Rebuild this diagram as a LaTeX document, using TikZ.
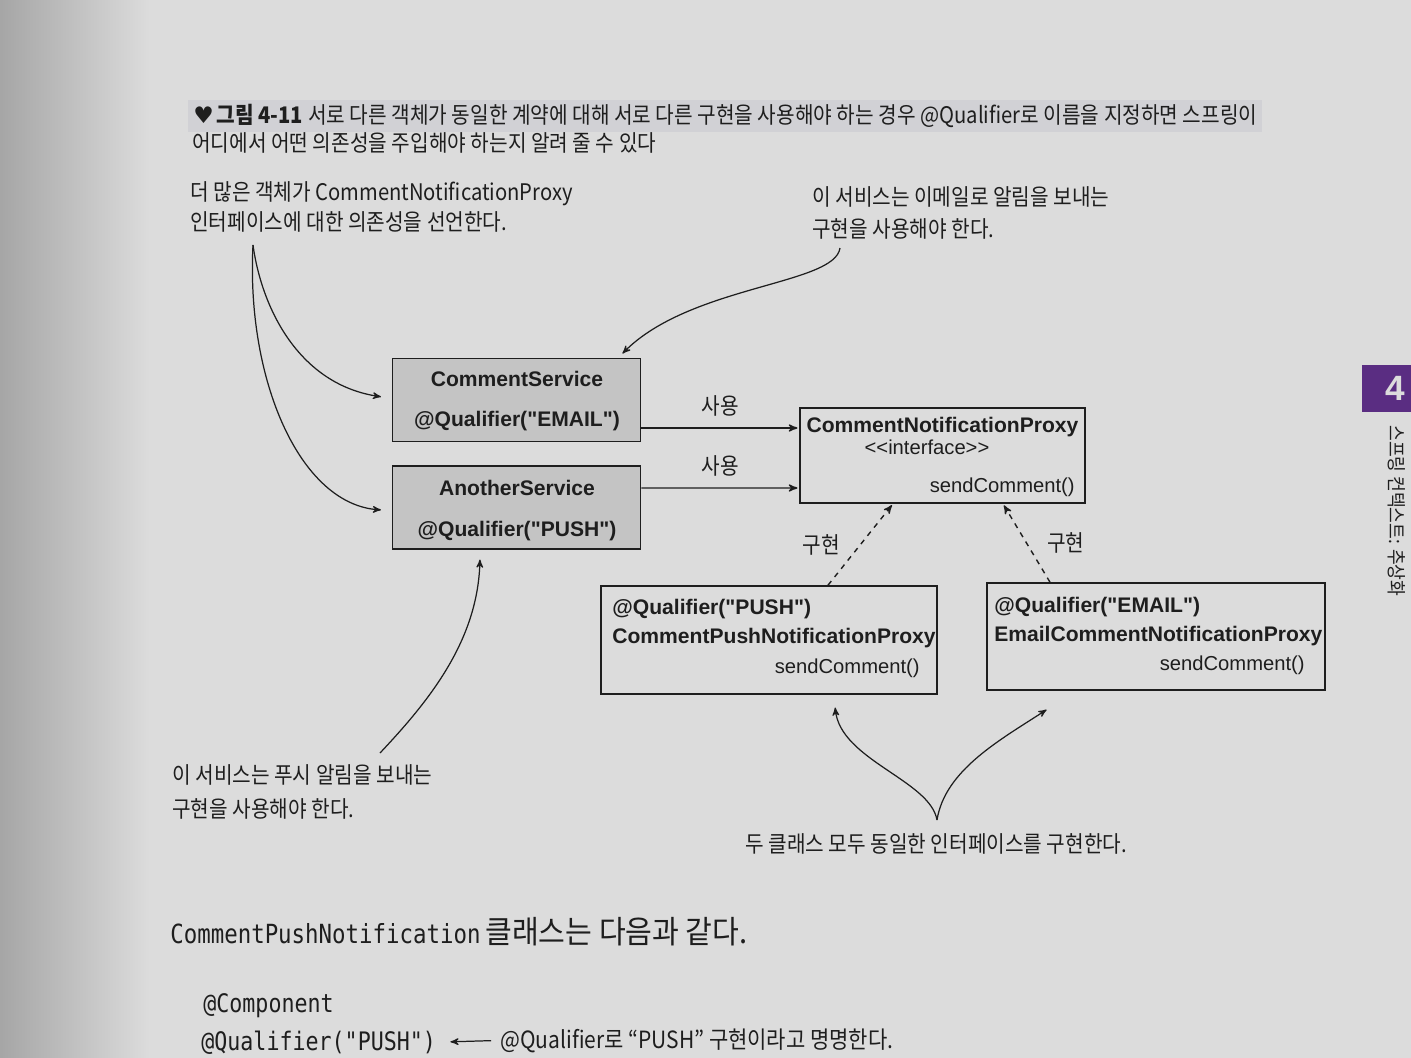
\documentclass[tikz,border=0pt]{standalone}
\usepackage{fontspec}
\usepackage{xcolor}
\usepackage{tikz}
\usetikzlibrary{positioning, arrows, calc}

\setmainfont[Ligatures=TeXOff]{Liberation Sans}
\newfontfamily\krcond[FakeStretch=0.885]{Noto Sans CJK KR}
\newfontfamily\krbig[FakeStretch=0.92]{Noto Sans CJK KR}
\newfontfamily\codefont[FakeStretch=0.85]{DejaVu Sans Mono}
\newfontfamily\symfont{DejaVu Sans}

\definecolor{page}{HTML}{DCDCDC}
\definecolor{band}{HTML}{D1D1D5}
\definecolor{boxgray}{HTML}{C4C4C4}
\definecolor{ink}{HTML}{1E1E1E}
\definecolor{tabpurple}{HTML}{5A2D82}

\newcommand\figcap{\krcond\fontsize{13}{15}\selectfont}
\newcommand\notetxt{\krcond\fontsize{13}{15}\selectfont}

\tikzset{
  svc/.style={draw=ink, line width=0.9pt, fill=boxgray, minimum width=4.96cm, minimum height=1.66cm, inner sep=0pt},
  cls/.style={draw=ink, line width=0.9pt, fill=page, inner sep=0pt},
  bold/.style={inner sep=0pt, text=ink, font=\fontsize{12}{14}\selectfont\bfseries},
  meth/.style={inner sep=0pt, text=ink, font=\fontsize{11.5}{14}\selectfont},
  note/.style={inner sep=0pt, anchor=base west, text=ink, font=\notetxt},
  uses/.style={->, draw=ink, line width=0.8pt},
  impl/.style={->, draw=ink, dashed, line width=0.8pt},
  callout/.style={->, draw=ink, line width=0.7pt},
}

\begin{document}
\begin{tikzpicture}[x=0.02cm, y=-0.02cm, >=stealth', shorten >=1pt]
    \useasboundingbox (0,0) rectangle (1411,1058);
    % page
    \fill[page] (0,0) rectangle (1411,1058);
    \shade[left color=black!35, right color=page] (0,0) rectangle (150,1058);
    \fill[band] (188,100) rectangle (1262,132);

    % caption
    \node[inner sep=0pt, anchor=base west, text=ink] (cap1) at (193,123)
        {{\symfont\fontsize{13}{14}\selectfont ♥}\,{\figcap\bfseries 그림 4-11} \figcap 서로 다른 객체가 동일한 계약에 대해 서로 다른 구현을 사용해야 하는 경우 @Qualifier로 이름을 지정하면 스프링이};
    \node[inner sep=0pt, anchor=base west, text=ink, font=\figcap] (cap2) at (192,151)
        {어디에서 어떤 의존성을 주입해야 하는지 알려 줄 수 있다};

    % services
    \node[svc] (cs) at (516.5,400) {};
    \node[svc] (an) at (516.5,507.5) {};
    \node[bold, anchor=base] (csName) at (517,386) {CommentService};
    \node[bold, anchor=base] (csQual) at (517,426) {@Qualifier("EMAIL")};
    \node[bold, anchor=base] (anName) at (517,495) {AnotherService};
    \node[bold, anchor=base] (anQual) at (517,536) {@Qualifier("PUSH")};

    % interface
    \node[cls, minimum width=5.7cm, minimum height=1.9cm] (proxy) at (942.5,455.5) {};
    \node[bold, anchor=base] (proxyName) at (942.5,432) {CommentNotificationProxy};
    \node[meth, anchor=base] (proxyKind) at (927,454) {<{}<interface>{}>};
    \node[meth, anchor=base east] (proxySend) at (1075,492) {sendComment()};

    % implementations
    \node[cls, minimum width=6.72cm, minimum height=2.16cm] (push) at (769,640) {};
    \node[bold, anchor=base west] (pushQual) at (612,614) {@Qualifier("PUSH")};
    \node[bold, anchor=base west] (pushName) at (612,643) {CommentPushNotificationProxy};
    \node[meth, anchor=base east] (pushSend) at (920,673) {sendComment()};

    \node[cls, minimum width=6.76cm, minimum height=2.14cm] (email) at (1156,636.5) {};
    \node[bold, anchor=base west] (emailQual) at (994,612) {@Qualifier("EMAIL")};
    \node[bold, anchor=base west] (emailName) at (994,641) {EmailCommentNotificationProxy};
    \node[meth, anchor=base east] (emailSend) at (1305,670) {sendComment()};

    % connectors
    \draw[uses] ($(cs.east)+(0,28)$) -- node[above=3pt, font=\notetxt, text=ink] {사용} ($(proxy.west)+(0,-27.5)$);
    \draw[uses] ($(an.east)+(0,-19.5)$) -- node[above=3pt, font=\notetxt, text=ink] {사용} ($(proxy.west)+(0,32.5)$);
    \draw[impl] ($(push.north)+(59,0)$) -- node[left=8pt, font=\notetxt, text=ink] {구현} ($(proxy.south)+(-49.5,0)$);
    \draw[impl] ($(email.north)+(-106,0)$) -- node[right=8pt, font=\notetxt, text=ink] {구현} ($(proxy.south)+(60.5,0)$);

    % notes
    \node[note] (depsA) at (190,200) {더 많은 객체가 CommentNotificationProxy};
    \node[note] (depsB) at (190,230) {인터페이스에 대한 의존성을 선언한다.};
    \node[note] (mailA) at (812,205) {이 서비스는 이메일로 알림을 보내는};
    \node[note] (mailB) at (812,237) {구현을 사용해야 한다.};
    \node[note] (pushA) at (172,783) {이 서비스는 푸시 알림을 보내는};
    \node[note] (pushB) at (172,817) {구현을 사용해야 한다.};
    \node[note] (both) at (745,852) {두 클래스 모두 동일한 인터페이스를 구현한다.};

    \coordinate (depsTip) at (253,245);
    \coordinate (mailTip) at (840,248);
    \coordinate (pushTip) at (380,753);
    \coordinate (bothTip) at (937,820);

    \draw[callout] (depsTip) .. controls (262,310) and (300,385) .. ($(cs.west)+(-9,-3)$);
    \draw[callout] (depsTip) .. controls (246,380) and (300,505) .. ($(an.west)+(-9,2.5)$);
    \draw[callout] (mailTip) .. controls (835,285) and (690,285) .. ($(cs.north east)+(-20,-3)$);
    \draw[callout] (pushTip) .. controls (430,700) and (478,640) .. ($(an.south)+(-36.5,8)$);
    \draw[callout] (bothTip) .. controls (930,780) and (840,760) .. ($(push.south)+(66,11)$);
    \draw[callout] (bothTip) .. controls (945,770) and (1000,740) .. ($(email.south)+(-108,18)$);

    % body text below the figure
    \node[inner sep=0pt, anchor=base west, text=ink] (body) at (170,943)
        {{\codefont\fontsize{15}{18}\selectfont CommentPushNotification} {\krbig\fontsize{18}{20}\selectfont 클래스는 다음과 같다.}};
    \node[inner sep=0pt, anchor=base west, text=ink, font=\codefont\fontsize{14.5}{18}\selectfont] (codeA) at (203,1012) {@Component};
    \node[inner sep=0pt, anchor=base west, text=ink, font=\codefont\fontsize{14.5}{18}\selectfont] (codeB) at (201,1050) {@Qualifier("PUSH")};
    \node[note, font=\krcond\fontsize{13.5}{15}\selectfont] (codeNote) at (500,1048) {@Qualifier로 “PUSH” 구현이라고 명명한다.};
    \draw[->, draw=ink, line width=0.7pt, shorten <=5pt, shorten >=8pt] (codeNote.west) -- (codeB.east);

    % chapter tab
    \node[fill=tabpurple, minimum width=1cm, minimum height=0.94cm, inner sep=0pt, anchor=north west] (tab) at (1362,365) {};
    \node[text=page, font=\fontsize{20}{22}\selectfont\bfseries] (tabNum) at ($(tab.center)+(8,0)$) {4};
    \node[rotate=-90, anchor=west, inner sep=0pt, text=ink, font=\krcond\fontsize{11}{13}\selectfont] (tabText) at (1397,425) {스프링 컨텍스트: 추상화};
\end{tikzpicture}
\end{document}
